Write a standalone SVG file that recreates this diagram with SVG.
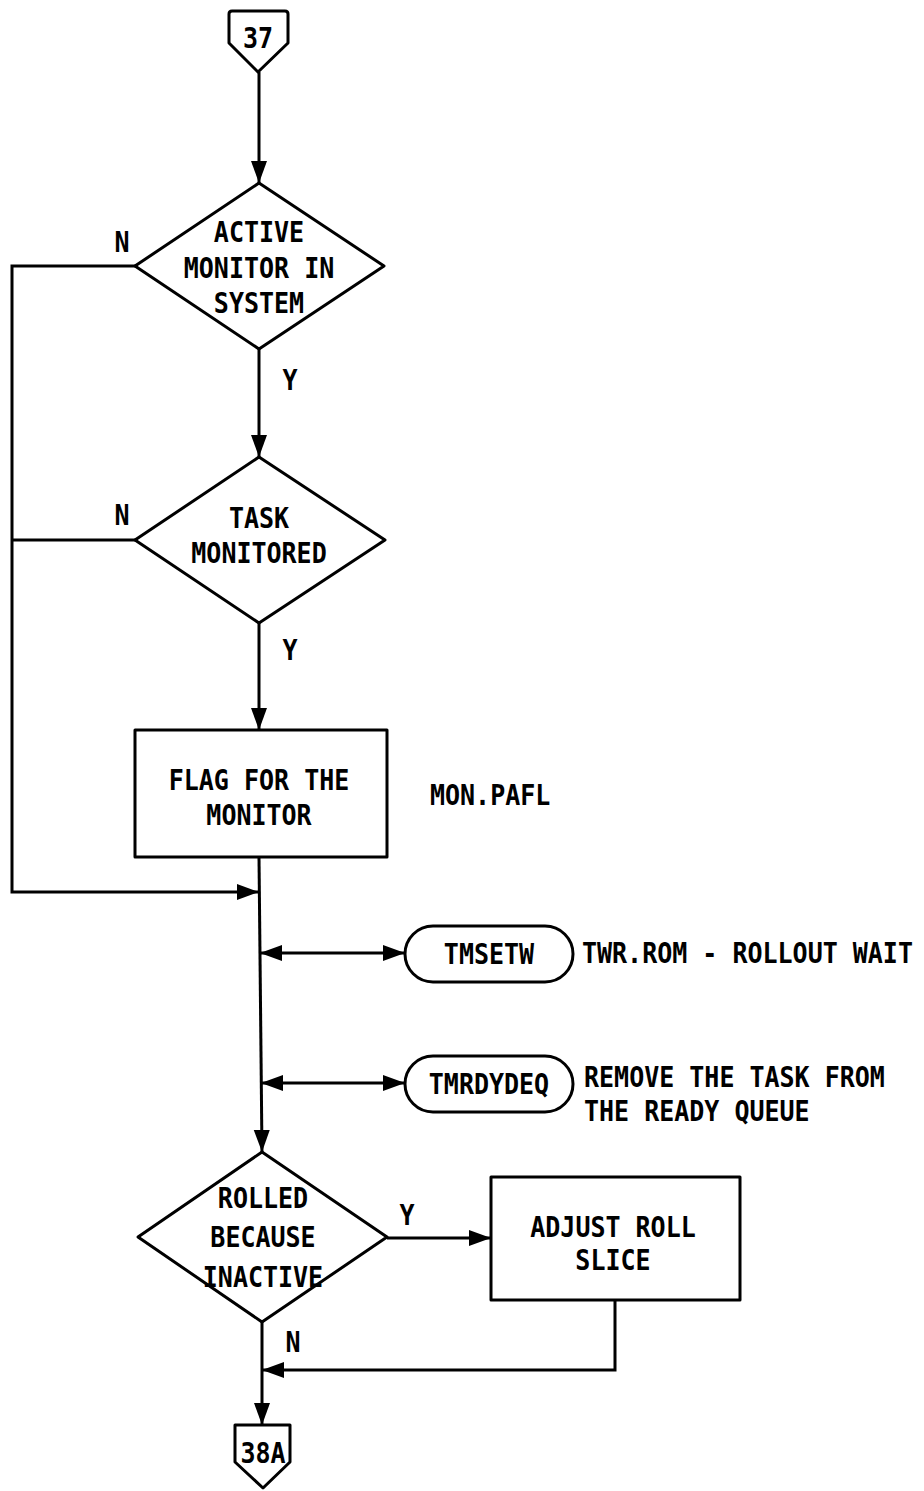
<svg xmlns="http://www.w3.org/2000/svg" width="924" height="1491" viewBox="0 0 924 1491">
  <style>
    .shape { fill: #fff; stroke: #000; stroke-width: 3; stroke-linejoin: round; }
    .wire { fill: none; stroke: #000; stroke-width: 3; }
    text { font-family: "DejaVu Sans Mono", "Liberation Mono", monospace; font-weight: bold; font-size: 25px; fill: #000;
           transform-box: fill-box; transform-origin: center; transform: scaleY(1.1); }
    .c { text-anchor: middle; }
  </style>
  <defs>
    <marker id="arrow" markerUnits="userSpaceOnUse" markerWidth="24" markerHeight="18" refX="22" refY="8" orient="auto-start-reverse">
      <path d="M0,0 L22,8 L0,16 z" fill="#000"/>
    </marker>
  </defs>

  <rect width="924" height="1491" fill="#fff"/>

  <!-- connectors -->
  <g id="connectors">
    <line class="wire" x1="259" y1="72" x2="259" y2="183" marker-end="url(#arrow)"/>
    <line class="wire" x1="259" y1="349" x2="259" y2="457" marker-end="url(#arrow)"/>
    <line class="wire" x1="259" y1="623" x2="259" y2="730" marker-end="url(#arrow)"/>
    <line class="wire" x1="259" y1="857" x2="262" y2="1152" marker-end="url(#arrow)"/>
    <line class="wire" x1="262" y1="1322" x2="262" y2="1425" marker-end="url(#arrow)"/>
    <!-- N branches back into the main line -->
    <polyline class="wire" points="135,266 12,266 12,892 259,892" marker-end="url(#arrow)"/>
    <line class="wire" x1="135" y1="540" x2="12" y2="540"/>
    <!-- subroutine calls -->
    <line class="wire" x1="260" y1="953" x2="405" y2="953" marker-start="url(#arrow)" marker-end="url(#arrow)"/>
    <line class="wire" x1="261" y1="1083" x2="405" y2="1083" marker-start="url(#arrow)" marker-end="url(#arrow)"/>
    <!-- Y branch to adjust, and return -->
    <line class="wire" x1="387" y1="1238" x2="491" y2="1238" marker-end="url(#arrow)"/>
    <polyline class="wire" points="615,1300 615,1370 262,1370" marker-end="url(#arrow)"/>
  </g>

  <g id="entry37">
    <path class="shape" d="M232,11 L285,11 Q288,11 288,14 L288,43 L258,72 L229,43 L229,14 Q229,11 232,11 z"/>
    <text class="c" x="258" y="47">37</text>
  </g>

  <g id="activeMonitor">
    <polygon class="shape" points="259,183 384,266 259,349 135,266"/>
    <text class="c" x="259" y="241">ACTIVE</text>
    <text class="c" x="259" y="277">MONITOR IN</text>
    <text class="c" x="259" y="312">SYSTEM</text>
    <text class="c" x="122" y="251">N</text>
    <text class="c" x="290" y="389">Y</text>
  </g>

  <g id="taskMonitored">
    <polygon class="shape" points="259,457 385,540 259,623 135,540"/>
    <text class="c" x="259" y="527">TASK</text>
    <text class="c" x="259" y="562">MONITORED</text>
    <text class="c" x="122" y="524">N</text>
    <text class="c" x="290" y="659">Y</text>
  </g>

  <g id="flagMonitor">
    <rect class="shape" x="135" y="730" width="252" height="127"/>
    <text class="c" x="259" y="789">FLAG FOR THE</text>
    <text class="c" x="259" y="824">MONITOR</text>
    <text x="430" y="804">MON.PAFL</text>
  </g>

  <g id="tmsetw">
    <rect class="shape" x="405" y="926" width="168" height="56" rx="28" ry="28"/>
    <text class="c" x="489" y="963">TMSETW</text>
    <text x="582" y="962">TWR.ROM - ROLLOUT WAIT</text>
  </g>

  <g id="tmrdydeq">
    <rect class="shape" x="405" y="1056" width="168" height="56" rx="28" ry="28"/>
    <text class="c" x="489" y="1093">TMRDYDEQ</text>
    <text x="584" y="1086">REMOVE THE TASK FROM</text>
    <text x="584" y="1120">THE READY QUEUE</text>
  </g>

  <g id="rolledInactive">
    <polygon class="shape" points="262,1152 387,1237 262,1322 138,1237"/>
    <text class="c" x="263" y="1207">ROLLED</text>
    <text class="c" x="263" y="1246">BECAUSE</text>
    <text class="c" x="263" y="1286">INACTIVE</text>
    <text class="c" x="407" y="1224">Y</text>
    <text class="c" x="293" y="1351">N</text>
  </g>

  <g id="adjustSlice">
    <rect class="shape" x="491" y="1177" width="249" height="123"/>
    <text class="c" x="613" y="1236">ADJUST ROLL</text>
    <text class="c" x="613" y="1269">SLICE</text>
  </g>

  <g id="exit38A">
    <path class="shape" d="M235,1425 L290,1425 L290,1462 L263,1488 L235,1462 z"/>
    <text class="c" x="263" y="1462">38A</text>
  </g>
</svg>
